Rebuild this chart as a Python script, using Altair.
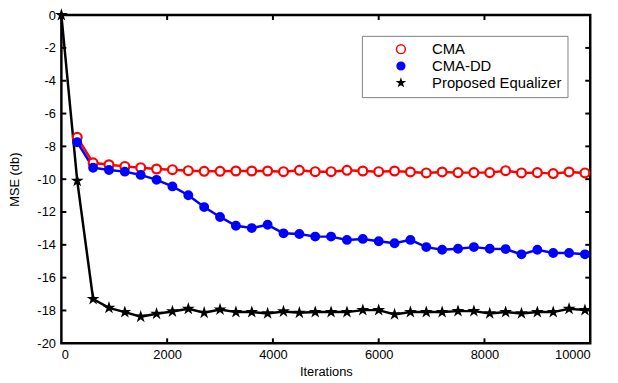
import altair as alt
import pandas as pd

iters_cma = [300 * i for i in range(1, 34)]
iters_star = [300 * i for i in range(0, 34)]

cma = [-7.45, -9.0, -9.12, -9.22, -9.3, -9.38, -9.42, -9.48, -9.52, -9.52, -9.5,
       -9.5, -9.5, -9.54, -9.46, -9.54, -9.54, -9.46, -9.5, -9.54, -9.5, -9.56,
       -9.62, -9.56, -9.6, -9.6, -9.6, -9.48, -9.62, -9.6, -9.66, -9.56, -9.62]

cma_dd = [-7.75, -9.3, -9.44, -9.54, -9.74, -10.04, -10.44, -10.98, -11.7, -12.3,
          -12.84, -12.98, -12.78, -13.3, -13.34, -13.5, -13.5, -13.7, -13.64, -13.78,
          -13.9, -13.7, -14.14, -14.3, -14.24, -14.14, -14.24, -14.26, -14.58, -14.3,
          -14.5, -14.5, -14.58]

proposed = [0.0, -10.1, -17.3, -17.84, -18.1, -18.38, -18.2, -18.06, -17.9, -18.14,
            -17.94, -18.1, -18.1, -18.18, -18.06, -18.14, -18.1, -18.1, -18.1, -17.98,
            -17.98, -18.24, -18.1, -18.1, -18.1, -18.04, -18.04, -18.18, -18.1, -18.18,
            -18.1, -18.1, -17.9, -17.98]

series_names = ["CMA", "CMA-DD", "Proposed Equalizer"]
x_labels = [0, 2000, 4000, 6000, 8000, 10000]
y_labels = list(range(-20, 1, 2))
x_ticks = [2000, 4000, 6000, 8000]
y_ticks = [-18, -16, -14, -12, -10, -8, -6, -4, -2]

rows = []
for it, v in zip(iters_cma, cma):
    rows.append({"iter": it, "mse": v, "series": "CMA"})
for it, v in zip(iters_cma, cma_dd):
    rows.append({"iter": it, "mse": v, "series": "CMA-DD"})
for it, v in zip(iters_star, proposed):
    rows.append({"iter": it, "mse": v, "series": "Proposed Equalizer"})
df = pd.DataFrame(rows)

W, H = 535, 332
STAR = ("M0,-1L0.2245,-0.309L0.951,-0.309L0.363,0.118L0.588,0.809L0,0.382"
        "L-0.588,0.809L-0.363,0.118L-0.951,-0.309L-0.2245,-0.309Z")

xscale = alt.Scale(domain=[0, 10000], nice=False)
yscale = alt.Scale(domain=[-20, 0], nice=False)
xaxis = alt.Axis(values=x_labels, title="Iterations", format="d",
                 labelPadding=5, titlePadding=5, labelOverlap=False)
yaxis = alt.Axis(values=y_labels, title="MSE (db)", format="d",
                 labelPadding=6, titlePadding=16, labelOverlap=False,
                 labelExpr="replace(datum.label, '\u2212', '-')")

xs = alt.X("iter:Q", scale=xscale, axis=xaxis)
ys = alt.Y("mse:Q", scale=yscale, axis=yaxis)

colors = ["#ff0000", "#0000ff", "#000000"]
fills = ["#ffffff", "#0000ff", "#000000"]

line_layers = [
    alt.Chart(df).transform_filter(alt.datum.series == name)
    .mark_line(strokeWidth=2.5, color=col).encode(x=xs, y=ys)
    for name, col in zip(series_names, colors)
]

leg = alt.Legend(title=None, orient="none", legendX=304, legendY=21,
                 strokeColor="#808080", fillColor="white", padding=6,
                 symbolOffset=26, labelOffset=24, rowPadding=1,
                 labelFontSize=15, labelFont="Liberation Sans", labelColor="black")

points = alt.Chart(df).mark_point(strokeWidth=2.2, opacity=1).encode(
    x=xs, y=ys,
    stroke=alt.Stroke("series:N", scale=alt.Scale(domain=series_names, range=colors), legend=leg),
    fill=alt.Fill("series:N", scale=alt.Scale(domain=series_names, range=fills), legend=leg),
    shape=alt.Shape("series:N", scale=alt.Scale(domain=series_names, range=["circle", "circle", STAR]), legend=leg),
    size=alt.Size("series:N", scale=alt.Scale(domain=series_names, range=[80, 42, 250]), legend=leg),
)

xt = pd.DataFrame({"iter": x_ticks})
yt = pd.DataFrame({"mse": y_ticks})
tick_style = dict(color="black", strokeWidth=2)
tx = alt.X("iter:Q", scale=xscale, axis=xaxis)
ty = alt.Y("mse:Q", scale=yscale, axis=yaxis)
xt_bot = alt.Chart(xt).mark_rule(**tick_style).encode(x=tx, y=alt.value(H), y2=alt.value(H - 5))
xt_top = alt.Chart(xt).mark_rule(**tick_style).encode(x=tx, y=alt.value(0), y2=alt.value(5))
yt_l = alt.Chart(yt).mark_rule(**tick_style).encode(y=ty, x=alt.value(0), x2=alt.value(5))
yt_r = alt.Chart(yt).mark_rule(**tick_style).encode(y=ty, x=alt.value(W), x2=alt.value(W - 5))

chart = alt.layer(*line_layers, points, xt_bot, xt_top, yt_l, yt_r).properties(
    width=W, height=H,
    autosize=alt.AutoSizeParams(type="none"),
    padding={"left": 54, "top": 5, "right": 20, "bottom": 38},
).configure_view(stroke="black", strokeWidth=2.5).configure_axis(
    grid=False, ticks=False, domain=False,
    labelFont="Liberation Sans", labelFontSize=13, labelColor="black",
    titleFont="Liberation Sans", titleFontSize=13, titleFontWeight="normal", titleColor="black",
)

chart.save("out.html", embed_options={"renderer": "svg", "actions": False})
